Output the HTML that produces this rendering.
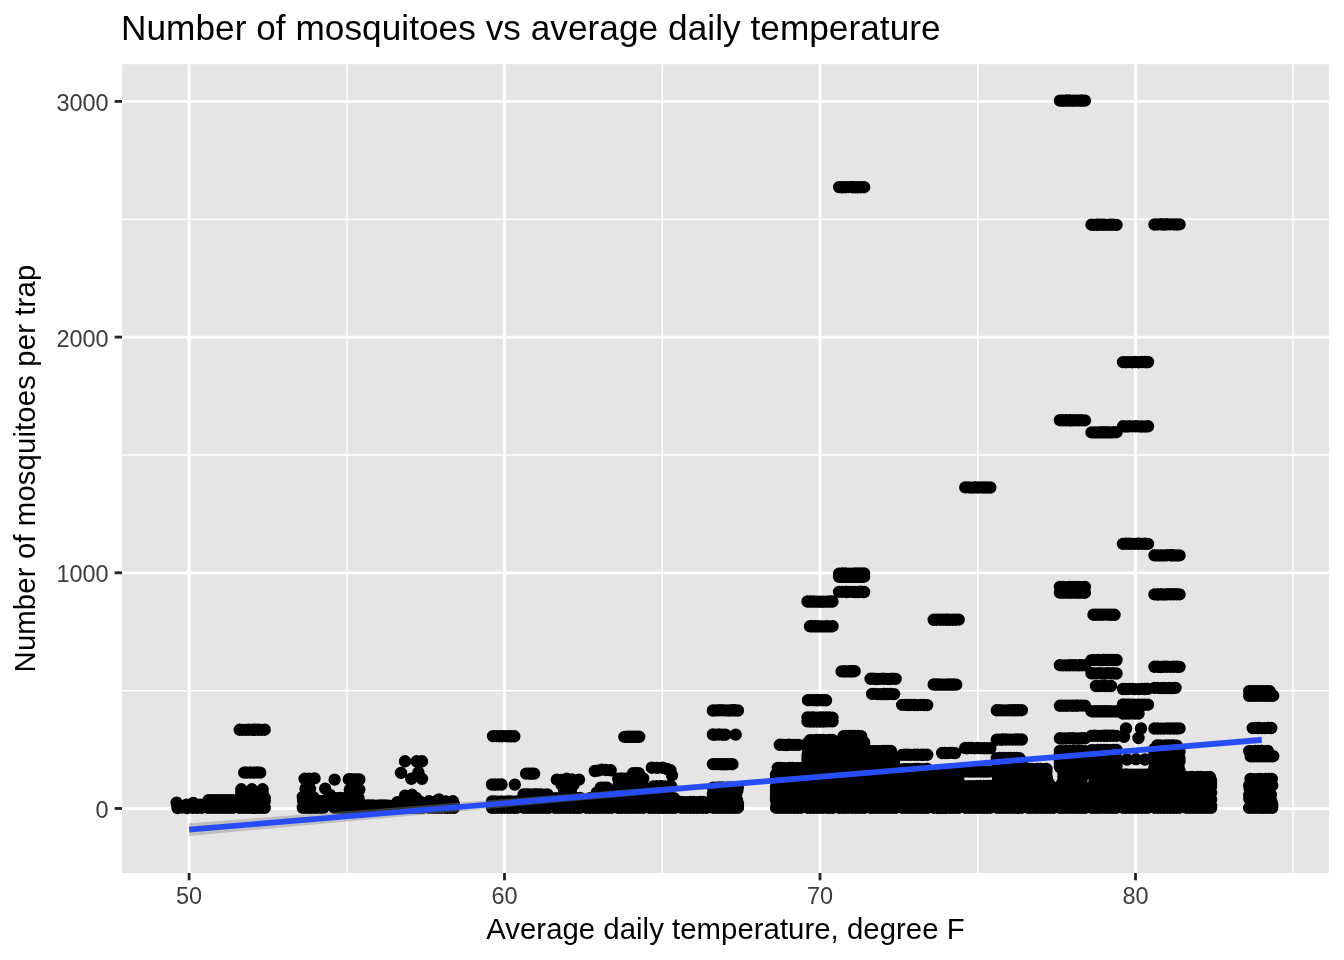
<!DOCTYPE html>
<html><head><meta charset="utf-8"><title>Number of mosquitoes vs average daily temperature</title>
<style>
html,body{margin:0;padding:0;background:#fff}
body{width:1344px;height:960px;overflow:hidden}
svg{display:block}
text{font-family:"Liberation Sans",Arial,Helvetica,sans-serif}
.ax text{font-size:23.47px;fill:#3c3c3c}
</style></head><body>
<svg width="1344" height="960" viewBox="0 0 1344 960">
<rect width="1344" height="960" fill="#fff"/>
<rect x="122.05" y="64.2" width="1207.0" height="808.8" fill="#e5e5e5"/>
<g fill="none"><path d="M122.05 690.7H1329" stroke="#fff" stroke-width="1.42"/><path d="M122.05 455.0H1329" stroke="#fff" stroke-width="1.42"/><path d="M122.05 219.3H1329" stroke="#fff" stroke-width="1.42"/><path d="M346.8 64.2V873" stroke="#fff" stroke-width="1.42"/><path d="M662.3 64.2V873" stroke="#fff" stroke-width="1.42"/><path d="M977.8 64.2V873" stroke="#fff" stroke-width="1.42"/><path d="M1293.2 64.2V873" stroke="#fff" stroke-width="1.42"/><path d="M122.05 808.5H1329" stroke="#fff" stroke-width="2.85"/><path d="M122.05 572.8H1329" stroke="#fff" stroke-width="2.85"/><path d="M122.05 337.1H1329" stroke="#fff" stroke-width="2.85"/><path d="M122.05 101.4H1329" stroke="#fff" stroke-width="2.85"/><path d="M189.1 64.2V873" stroke="#fff" stroke-width="2.85"/><path d="M504.5 64.2V873" stroke="#fff" stroke-width="2.85"/><path d="M820.0 64.2V873" stroke="#fff" stroke-width="2.85"/><path d="M1135.5 64.2V873" stroke="#fff" stroke-width="2.85"/></g>
<path d="M176.6 802.6h.01M177.3 806.5h.01M177.5 808h.01M182 807.5h.01M186.6 804.6h.01M187 808h.01M193.3 802.9h.01M193 807.8h.01M200.1 804.8h.01M201.5 807.8h.01M197 807.8h.01M190 806.5h.01M208.6 800.2h.01M211.7 800.3h.01M214.8 800.3h.01M217.8 800.2h.01M220.9 800.3h.01M223.9 800.2h.01M227.0 800.3h.01M230.0 800.2h.01M233.1 800.2h.01M211.0 803.5h.01M214.0 803.6h.01M217.1 803.5h.01M220.1 803.5h.01M223.2 803.6h.01M226.2 803.4h.01M229.3 803.6h.01M232.3 803.4h.01M208.5 806.6h.01M211.6 806.7h.01M214.7 806.7h.01M217.8 806.7h.01M220.9 806.7h.01M224.0 806.6h.01M227.1 806.6h.01M230.3 806.6h.01M208.1 807.9h.01M211.2 807.8h.01M214.4 807.7h.01M217.5 807.8h.01M220.6 807.8h.01M223.7 807.7h.01M226.9 807.9h.01M230.0 807.9h.01M233.1 807.7h.01M239.7 729.8h.01M242.8 729.9h.01M245.9 729.9h.01M249.0 729.7h.01M252.2 729.9h.01M255.3 729.7h.01M258.4 729.8h.01M261.5 729.9h.01M264.7 729.7h.01M254.0 729.8h.01M244.2 772.6h.01M247.4 772.6h.01M250.6 772.5h.01M253.8 772.6h.01M257.0 772.4h.01M260.2 772.6h.01M244.8 772.5h.01M241.3 789.3h.01M251.9 789.3h.01M262.6 789.3h.01M241.3 793h.01M251.9 793h.01M262.6 793h.01M246.5 793h.01M257 793h.01M239.7 798.1h.01M242.8 798.1h.01M245.9 798.0h.01M249.0 798.0h.01M252.2 797.9h.01M255.3 798.1h.01M258.4 798.0h.01M261.5 798.1h.01M264.7 798.1h.01M241.0 801.1h.01M244.0 801.2h.01M246.9 801.1h.01M249.9 801.1h.01M252.8 801.1h.01M255.8 801.3h.01M258.7 801.1h.01M261.7 801.1h.01M264.7 801.2h.01M239.7 804.4h.01M242.6 804.5h.01M245.5 804.5h.01M248.4 804.5h.01M251.4 804.3h.01M254.3 804.4h.01M257.2 804.4h.01M260.2 804.5h.01M263.1 804.5h.01M240.3 807.6h.01M243.2 807.6h.01M246.2 807.5h.01M249.1 807.5h.01M252.1 807.6h.01M255.0 807.6h.01M257.9 807.6h.01M260.9 807.7h.01M263.8 807.7h.01M239.7 807.8h.01M242.8 807.8h.01M245.9 807.9h.01M249.0 807.7h.01M252.2 807.9h.01M255.3 807.9h.01M258.4 807.9h.01M261.5 807.9h.01M264.7 807.8h.01M304.6 778.8h.01M314.5 778.4h.01M309 778.6h.01M305.5 788.6h.01M310 789h.01M303.1 800.9h.01M306.0 800.9h.01M308.9 800.9h.01M311.7 800.9h.01M314.6 801.0h.01M317.5 800.9h.01M320.4 800.9h.01M323.3 800.9h.01M304.0 804.2h.01M306.7 804.1h.01M309.4 804.1h.01M312.1 804.2h.01M314.8 804.2h.01M317.5 804.1h.01M320.2 804.3h.01M302.8 807.4h.01M305.7 807.3h.01M308.6 807.3h.01M311.5 807.4h.01M314.5 807.3h.01M317.4 807.5h.01M320.3 807.3h.01M323.3 807.3h.01M302.8 807.8h.01M305.7 807.7h.01M308.6 807.8h.01M311.5 807.7h.01M314.5 807.8h.01M317.4 807.9h.01M320.3 807.9h.01M323.3 807.9h.01M322.2 807.7h.01M302.8 797.0h.01M305.4 796.9h.01M308.0 797.1h.01M310.6 797.0h.01M313.3 797.1h.01M334.6 779.6h.01M325.2 788.6h.01M330 795h.01M348.8 779.3h.01M351.4 779.3h.01M354.0 779.5h.01M356.7 779.5h.01M359.3 779.5h.01M349.8 789.7h.01M353.0 789.7h.01M356.1 789.5h.01M359.3 789.6h.01M357.5 789.6h.01M334.4 798.1h.01M337.4 798.1h.01M340.4 798.0h.01M343.4 798.1h.01M346.4 798.1h.01M349.4 798.1h.01M352.4 798.0h.01M355.4 797.9h.01M358.4 797.9h.01M335.0 801.3h.01M338.1 801.3h.01M341.1 801.2h.01M344.1 801.2h.01M347.2 801.3h.01M350.2 801.1h.01M353.2 801.2h.01M356.3 801.3h.01M359.3 801.3h.01M334.3 804.3h.01M337.4 804.5h.01M340.5 804.3h.01M343.7 804.5h.01M346.8 804.5h.01M349.9 804.4h.01M353.0 804.4h.01M356.2 804.5h.01M359.3 804.5h.01M334.7 807.7h.01M337.8 807.5h.01M340.9 807.7h.01M343.9 807.7h.01M347.0 807.6h.01M350.0 807.6h.01M353.1 807.6h.01M356.1 807.5h.01M334.3 807.7h.01M337.4 807.9h.01M340.5 807.8h.01M343.7 807.8h.01M346.8 807.9h.01M349.9 807.8h.01M353.0 807.9h.01M356.2 807.9h.01M359.3 807.7h.01M366.9 805.4h.01M370.0 805.5h.01M373.1 805.4h.01M376.3 805.6h.01M379.4 805.5h.01M382.5 805.5h.01M385.7 805.5h.01M388.8 805.6h.01M365.8 807.8h.01M369.0 807.9h.01M372.1 807.8h.01M375.2 807.8h.01M378.3 807.8h.01M381.5 807.7h.01M384.6 807.8h.01M387.7 807.7h.01M390.8 807.7h.01M405 761.3h.01M416.6 761.3h.01M422 761.3h.01M401 772.9h.01M418.4 772.5h.01M411.3 778.8h.01M422 778.8h.01M405 795.7h.01M412 794.8h.01M408 797h.01M416 798h.01M397.4 802.1h.01M400.3 802.0h.01M403.2 801.9h.01M406.1 802.0h.01M409.1 802.0h.01M412.0 802.1h.01M414.9 801.9h.01M417.8 802.0h.01M420.7 801.9h.01M400.1 805.2h.01M403.3 805.3h.01M406.5 805.3h.01M409.7 805.2h.01M412.8 805.2h.01M416.0 805.2h.01M419.2 805.2h.01M422.4 805.3h.01M397.4 807.8h.01M400.5 807.8h.01M403.6 807.8h.01M406.8 807.9h.01M409.9 807.9h.01M413.0 807.9h.01M416.1 807.9h.01M419.3 807.7h.01M422.4 807.8h.01M429 801.3h.01M439 799.5h.01M453 801.3h.01M446 801.5h.01M434 802h.01M428.9 803.9h.01M432.1 803.9h.01M435.2 804.0h.01M438.3 803.9h.01M441.4 803.9h.01M444.6 803.9h.01M447.7 804.1h.01M450.8 804.1h.01M453.9 804.1h.01M431.5 807.1h.01M434.3 807.3h.01M437.1 807.3h.01M439.9 807.1h.01M442.7 807.3h.01M445.5 807.2h.01M448.3 807.2h.01M451.1 807.3h.01M453.9 807.3h.01M428.9 807.7h.01M432.1 807.8h.01M435.2 807.8h.01M438.3 807.8h.01M441.4 807.7h.01M444.6 807.7h.01M447.7 807.9h.01M450.8 807.7h.01M453.9 807.8h.01M493.0 736.1h.01M496.1 736.1h.01M499.1 736.2h.01M502.2 736.2h.01M505.2 736.1h.01M508.3 736.3h.01M511.3 736.3h.01M514.3 736.3h.01M502.4 736.1h.01M492.0 784.5h.01M495.2 784.7h.01M498.4 784.5h.01M501.5 784.5h.01M494.6 784.6h.01M514.8 784.6h.01M492.0 801.4h.01M495.2 801.4h.01M498.3 801.6h.01M501.4 801.5h.01M504.5 801.6h.01M507.7 801.4h.01M510.8 801.4h.01M513.9 801.6h.01M517.0 801.5h.01M495.3 804.8h.01M498.4 804.6h.01M501.5 804.8h.01M504.6 804.6h.01M507.7 804.8h.01M510.8 804.7h.01M513.9 804.7h.01M517.0 804.7h.01M492.0 807.9h.01M495.2 807.7h.01M498.3 807.7h.01M501.4 807.8h.01M504.5 807.7h.01M507.7 807.7h.01M510.8 807.7h.01M513.9 807.7h.01M517.0 807.7h.01M526.1 773.6h.01M528.8 773.6h.01M531.4 773.8h.01M534.1 773.6h.01M523.6 794.4h.01M526.6 794.4h.01M529.5 794.4h.01M532.5 794.6h.01M535.5 794.5h.01M538.5 794.4h.01M541.4 794.5h.01M544.4 794.6h.01M547.4 794.4h.01M523.6 797.8h.01M526.5 797.7h.01M529.4 797.7h.01M532.3 797.8h.01M535.2 797.8h.01M538.1 797.7h.01M541.0 797.8h.01M543.9 797.8h.01M546.9 797.7h.01M524.8 800.8h.01M527.7 801.0h.01M530.6 800.8h.01M533.6 800.8h.01M536.5 800.8h.01M539.4 801.0h.01M542.3 801.0h.01M545.2 801.0h.01M548.1 800.8h.01M524.6 804.0h.01M527.6 804.1h.01M530.6 804.0h.01M533.6 804.2h.01M536.6 804.2h.01M539.6 804.1h.01M542.6 804.0h.01M545.6 804.2h.01M548.6 804.0h.01M523.6 807.3h.01M526.5 807.2h.01M529.4 807.3h.01M532.3 807.2h.01M535.3 807.2h.01M538.2 807.2h.01M541.1 807.3h.01M544.0 807.2h.01M546.9 807.2h.01M523.6 807.7h.01M526.7 807.7h.01M529.8 807.8h.01M533.0 807.8h.01M536.1 807.9h.01M539.2 807.8h.01M542.3 807.9h.01M545.5 807.9h.01M548.6 807.8h.01M523.6 794.6h.01M526.7 794.4h.01M529.8 794.6h.01M533.0 794.5h.01M536.1 794.4h.01M527.7 794.6h.01M556.8 779.6h.01M566.6 778.8h.01M579 779.6h.01M561 780h.01M572 779.5h.01M561.5 784.5h.01M573.5 784.5h.01M567.5 784.5h.01M564 789.5h.01M571 789.5h.01M567.5 793.5h.01M555.1 798.1h.01M558.3 798.1h.01M561.4 797.9h.01M564.5 798.0h.01M567.6 798.0h.01M570.8 798.1h.01M573.9 798.1h.01M577.0 798.1h.01M580.1 798.0h.01M555.1 801.3h.01M558.3 801.1h.01M561.4 801.1h.01M564.5 801.1h.01M567.6 801.2h.01M570.8 801.1h.01M573.9 801.3h.01M577.0 801.2h.01M580.1 801.2h.01M555.1 804.4h.01M558.3 804.3h.01M561.4 804.5h.01M564.5 804.5h.01M567.6 804.4h.01M570.8 804.4h.01M573.9 804.4h.01M577.0 804.3h.01M580.1 804.5h.01M555.4 807.5h.01M558.6 807.7h.01M561.7 807.7h.01M564.9 807.6h.01M568.1 807.6h.01M571.2 807.6h.01M574.4 807.7h.01M577.6 807.7h.01M555.1 807.8h.01M558.3 807.8h.01M561.4 807.7h.01M564.5 807.7h.01M567.6 807.7h.01M570.8 807.9h.01M573.9 807.7h.01M577.0 807.8h.01M580.1 807.7h.01M594.8 771h.01M601.8 769.6h.01M610.7 770.3h.01M598 770.6h.01M606 770h.01M600.7 787.6h.01M602.9 787.6h.01M605.0 787.8h.01M607.2 787.8h.01M596.7 792.6h.01M599.6 792.4h.01M602.4 792.5h.01M605.3 792.5h.01M608.2 792.5h.01M589.8 798.1h.01M592.9 797.9h.01M596.0 798.0h.01M599.0 798.1h.01M602.1 798.1h.01M605.2 798.0h.01M608.3 797.9h.01M590.0 801.1h.01M592.8 801.2h.01M595.6 801.3h.01M598.4 801.1h.01M601.2 801.3h.01M604.0 801.2h.01M606.8 801.3h.01M609.6 801.3h.01M589.8 804.3h.01M592.9 804.3h.01M596.1 804.4h.01M599.2 804.4h.01M602.3 804.3h.01M605.4 804.3h.01M608.6 804.4h.01M611.7 804.3h.01M586.7 807.7h.01M589.9 807.5h.01M593.1 807.7h.01M596.3 807.7h.01M599.5 807.7h.01M602.7 807.5h.01M605.9 807.6h.01M609.1 807.6h.01M586.7 807.9h.01M589.8 807.8h.01M592.9 807.8h.01M596.1 807.8h.01M599.2 807.7h.01M602.3 807.7h.01M605.4 807.7h.01M608.6 807.9h.01M611.7 807.7h.01M624.4 736.9h.01M627.4 736.7h.01M630.4 736.7h.01M633.3 736.8h.01M636.3 736.7h.01M639.2 736.8h.01M633.2 773.1h.01M636.0 773.1h.01M638.7 773.1h.01M618.2 778.6h.01M621.4 778.5h.01M624.5 778.6h.01M627.6 778.4h.01M630.7 778.6h.01M633.9 778.5h.01M637.0 778.6h.01M640.1 778.5h.01M643.2 778.4h.01M621.5 781.7h.01M624.3 781.6h.01M627.2 781.8h.01M630.1 781.8h.01M633.0 781.6h.01M635.8 781.7h.01M638.7 781.6h.01M641.6 781.7h.01M618.8 785.0h.01M621.8 784.9h.01M624.7 784.8h.01M627.7 785.0h.01M630.7 785.0h.01M633.6 784.9h.01M636.6 784.8h.01M639.5 784.8h.01M642.5 784.8h.01M618.6 788.1h.01M621.5 788.2h.01M624.5 788.2h.01M627.5 788.1h.01M630.4 788.1h.01M633.4 788.1h.01M636.4 788.1h.01M639.4 788.1h.01M642.3 788.0h.01M621.6 791.3h.01M624.5 791.4h.01M627.3 791.2h.01M630.1 791.2h.01M633.0 791.2h.01M635.8 791.3h.01M638.6 791.3h.01M641.5 791.4h.01M618.2 794.4h.01M621.4 794.4h.01M624.5 794.6h.01M627.6 794.6h.01M630.7 794.5h.01M633.9 794.5h.01M637.0 794.4h.01M640.1 794.5h.01M643.2 794.6h.01M618.2 797.8h.01M621.4 797.6h.01M624.5 797.6h.01M627.6 797.6h.01M630.7 797.7h.01M633.9 797.8h.01M637.0 797.8h.01M640.1 797.8h.01M643.2 797.7h.01M618.2 800.9h.01M621.4 800.8h.01M624.5 801.0h.01M627.6 800.8h.01M630.7 801.0h.01M633.9 800.9h.01M637.0 800.8h.01M640.1 800.8h.01M643.2 800.8h.01M618.2 804.0h.01M621.4 804.0h.01M624.5 804.1h.01M627.6 804.1h.01M630.7 804.1h.01M633.9 804.0h.01M637.0 804.1h.01M640.1 804.0h.01M643.2 804.0h.01M618.2 807.3h.01M621.4 807.4h.01M624.5 807.3h.01M627.6 807.2h.01M630.7 807.2h.01M633.9 807.4h.01M637.0 807.4h.01M640.1 807.2h.01M643.2 807.2h.01M618.2 807.8h.01M621.4 807.9h.01M624.5 807.8h.01M627.6 807.7h.01M630.7 807.9h.01M633.9 807.9h.01M637.0 807.7h.01M640.1 807.7h.01M643.2 807.8h.01M651.8 767.7h.01M662.5 767.7h.01M657 767.9h.01M667 769h.01M670.5 770.3h.01M672 775.3h.01M653.3 786.5h.01M656.3 786.3h.01M659.3 786.5h.01M662.3 786.5h.01M665.3 786.4h.01M668.3 786.3h.01M671.3 786.5h.01M660.9 786.3h.01M649.8 798.1h.01M652.8 797.9h.01M655.8 798.1h.01M658.9 798.0h.01M661.9 797.9h.01M664.9 797.9h.01M667.9 798.0h.01M671.0 798.0h.01M674.0 798.1h.01M651.2 801.1h.01M654.0 801.1h.01M656.9 801.1h.01M659.8 801.2h.01M662.7 801.3h.01M665.6 801.3h.01M668.5 801.3h.01M671.4 801.3h.01M649.8 804.5h.01M652.8 804.5h.01M655.9 804.3h.01M658.9 804.4h.01M662.0 804.4h.01M665.0 804.4h.01M668.0 804.3h.01M671.1 804.3h.01M674.1 804.3h.01M651.0 807.5h.01M654.0 807.7h.01M657.0 807.5h.01M659.9 807.6h.01M662.9 807.7h.01M665.9 807.7h.01M668.8 807.6h.01M671.8 807.5h.01M674.8 807.6h.01M649.8 807.8h.01M652.9 807.9h.01M656.0 807.7h.01M659.2 807.8h.01M662.3 807.9h.01M665.4 807.7h.01M668.5 807.8h.01M671.7 807.9h.01M674.8 807.9h.01M681.4 801.9h.01M684.5 802.1h.01M687.6 802.1h.01M690.7 802.0h.01M693.8 801.9h.01M696.9 802.1h.01M700.0 802.0h.01M703.1 801.9h.01M681.3 805.1h.01M684.3 805.3h.01M687.3 805.3h.01M690.3 805.2h.01M693.3 805.3h.01M696.4 805.1h.01M699.4 805.1h.01M702.4 805.2h.01M705.4 805.3h.01M681.3 807.9h.01M684.5 807.8h.01M687.6 807.7h.01M690.7 807.8h.01M693.8 807.8h.01M697.0 807.9h.01M700.1 807.7h.01M703.2 807.9h.01M706.3 807.9h.01M712.9 710.5h.01M716.0 710.4h.01M719.1 710.3h.01M722.3 710.3h.01M725.4 710.4h.01M728.5 710.5h.01M731.6 710.3h.01M734.8 710.3h.01M737.9 710.5h.01M733.4 710.3h.01M712.9 734.5h.01M716.0 734.6h.01M719.1 734.5h.01M722.3 734.7h.01M725.4 734.7h.01M713.7 734.7h.01M735.7 734.6h.01M712.9 764.1h.01M715.7 764.1h.01M718.4 764.1h.01M721.2 764.2h.01M724.0 764.3h.01M726.8 764.2h.01M729.6 764.1h.01M732.4 764.2h.01M712.9 787.6h.01M716.0 787.6h.01M719.1 787.5h.01M722.3 787.4h.01M725.4 787.6h.01M728.5 787.4h.01M731.6 787.5h.01M734.8 787.5h.01M737.9 787.6h.01M713.7 790.8h.01M716.7 790.7h.01M719.6 790.6h.01M722.6 790.7h.01M725.5 790.8h.01M728.5 790.7h.01M731.4 790.6h.01M734.4 790.8h.01M737.3 790.7h.01M712.9 794.0h.01M715.8 794.0h.01M718.7 794.0h.01M721.6 793.8h.01M724.5 793.8h.01M727.5 793.8h.01M730.4 793.8h.01M733.3 794.0h.01M736.2 793.9h.01M712.9 797.1h.01M716.0 797.0h.01M719.2 797.2h.01M722.3 797.2h.01M725.4 797.0h.01M728.6 797.1h.01M731.7 797.1h.01M734.8 797.0h.01M713.4 800.3h.01M716.3 800.3h.01M719.3 800.2h.01M722.2 800.2h.01M725.2 800.2h.01M728.1 800.4h.01M731.1 800.2h.01M734.0 800.2h.01M737.0 800.2h.01M712.9 803.4h.01M716.0 803.4h.01M719.1 803.5h.01M722.3 803.5h.01M725.4 803.5h.01M728.5 803.4h.01M731.6 803.4h.01M734.8 803.6h.01M737.9 803.5h.01M714.0 806.6h.01M716.9 806.7h.01M719.9 806.7h.01M722.9 806.7h.01M725.9 806.8h.01M728.9 806.8h.01M731.9 806.7h.01M734.9 806.6h.01M737.9 806.8h.01M712.9 807.7h.01M716.0 807.7h.01M719.1 807.9h.01M722.3 807.8h.01M725.4 807.9h.01M728.5 807.8h.01M731.6 807.9h.01M734.8 807.8h.01M737.9 807.7h.01M779.8 744.9h.01M782.9 744.9h.01M786.0 745.0h.01M789.1 744.8h.01M792.2 744.9h.01M795.4 744.9h.01M798.5 744.9h.01M780.0 744.8h.01M777.8 767.9h.01M780.7 768.0h.01M783.6 768.1h.01M786.5 768.1h.01M789.4 767.9h.01M792.3 767.9h.01M795.2 768.1h.01M798.1 768.1h.01M801.0 768.0h.01M779.2 771.2h.01M782.3 771.3h.01M785.4 771.1h.01M788.5 771.3h.01M791.6 771.1h.01M794.7 771.2h.01M797.8 771.3h.01M776.0 774.4h.01M779.0 774.4h.01M782.0 774.4h.01M785.1 774.3h.01M788.1 774.3h.01M791.1 774.5h.01M794.1 774.5h.01M797.2 774.3h.01M800.2 774.4h.01M776.0 777.5h.01M779.1 777.6h.01M782.3 777.6h.01M785.4 777.6h.01M788.6 777.5h.01M791.7 777.6h.01M794.9 777.6h.01M798.0 777.6h.01M776.0 780.7h.01M778.9 780.8h.01M781.8 780.8h.01M784.8 780.7h.01M787.7 780.9h.01M790.6 780.9h.01M793.6 780.8h.01M796.5 780.7h.01M799.4 780.8h.01M776.4 784.0h.01M779.5 784.0h.01M782.5 783.9h.01M785.5 784.0h.01M788.5 783.9h.01M791.6 784.1h.01M794.6 784.1h.01M797.6 784.0h.01M800.7 783.9h.01M776.0 787.1h.01M779.1 787.3h.01M782.2 787.3h.01M785.3 787.3h.01M788.4 787.3h.01M791.5 787.1h.01M794.5 787.3h.01M797.6 787.2h.01M776.0 790.3h.01M779.1 790.5h.01M782.2 790.5h.01M785.3 790.3h.01M788.5 790.4h.01M791.6 790.5h.01M794.7 790.3h.01M797.8 790.5h.01M801.0 790.3h.01M776.0 793.7h.01M778.9 793.5h.01M781.8 793.5h.01M784.7 793.6h.01M787.6 793.5h.01M790.5 793.5h.01M793.4 793.5h.01M796.3 793.5h.01M799.2 793.7h.01M776.0 796.7h.01M779.1 796.9h.01M782.2 796.7h.01M785.3 796.8h.01M788.5 796.8h.01M791.6 796.8h.01M794.7 796.9h.01M797.8 796.8h.01M801.0 796.8h.01M776.0 800.0h.01M779.0 800.0h.01M782.1 800.1h.01M785.2 799.9h.01M788.3 800.1h.01M791.3 800.0h.01M794.4 800.0h.01M797.5 800.1h.01M776.6 803.1h.01M779.6 803.3h.01M782.7 803.1h.01M785.7 803.2h.01M788.8 803.3h.01M791.8 803.2h.01M794.9 803.2h.01M797.9 803.1h.01M801.0 803.1h.01M776.5 806.4h.01M779.6 806.4h.01M782.6 806.5h.01M785.7 806.3h.01M788.7 806.3h.01M791.8 806.4h.01M794.9 806.3h.01M797.9 806.3h.01M801.0 806.4h.01M776.0 807.7h.01M779.1 807.8h.01M782.2 807.7h.01M785.3 807.8h.01M788.5 807.8h.01M791.6 807.7h.01M794.7 807.8h.01M797.8 807.8h.01M801.0 807.7h.01M807.5 601.5h.01M810.6 601.5h.01M813.8 601.5h.01M816.9 601.6h.01M820.0 601.7h.01M823.1 601.7h.01M826.3 601.6h.01M829.4 601.5h.01M832.5 601.5h.01M830.9 601.6h.01M810.0 626.3h.01M812.8 626.3h.01M815.6 626.3h.01M818.5 626.3h.01M821.3 626.4h.01M824.1 626.4h.01M826.9 626.2h.01M829.7 626.4h.01M832.5 626.2h.01M808.0 700.2h.01M811.0 700.1h.01M814.0 700.1h.01M817.0 700.3h.01M820.0 700.1h.01M823.0 700.2h.01M826.0 700.3h.01M817.6 700.1h.01M807.5 717.5h.01M810.6 717.5h.01M813.8 717.5h.01M816.9 717.6h.01M820.0 717.4h.01M823.1 717.4h.01M826.3 717.4h.01M829.4 717.4h.01M832.5 717.6h.01M812.5 717.6h.01M807.5 721.4h.01M810.6 721.6h.01M813.8 721.6h.01M816.9 721.5h.01M820.0 721.6h.01M823.1 721.5h.01M826.3 721.4h.01M829.4 721.4h.01M832.5 721.4h.01M825.4 721.4h.01M810.1 740.1h.01M813.3 740.1h.01M816.5 739.9h.01M819.7 740.0h.01M822.9 740.0h.01M826.1 740.1h.01M829.3 740.0h.01M832.5 739.9h.01M807.5 743.1h.01M810.6 743.3h.01M813.8 743.1h.01M816.9 743.1h.01M820.0 743.1h.01M823.1 743.3h.01M826.3 743.3h.01M829.4 743.3h.01M832.5 743.1h.01M807.5 746.5h.01M810.5 746.4h.01M813.6 746.5h.01M816.6 746.4h.01M819.6 746.5h.01M822.6 746.4h.01M825.6 746.5h.01M828.7 746.5h.01M831.7 746.5h.01M810.1 749.5h.01M812.9 749.5h.01M815.7 749.6h.01M818.5 749.5h.01M821.3 749.7h.01M824.1 749.5h.01M826.9 749.5h.01M829.7 749.5h.01M832.5 749.7h.01M808.0 752.9h.01M811.1 752.8h.01M814.1 752.9h.01M817.2 752.9h.01M820.2 752.7h.01M823.2 752.8h.01M826.3 752.8h.01M829.3 752.9h.01M832.4 752.9h.01M807.5 756.1h.01M810.7 756.1h.01M813.8 755.9h.01M816.9 755.9h.01M820.1 755.9h.01M823.2 755.9h.01M826.3 756.1h.01M829.5 756.1h.01M807.5 759.2h.01M810.6 759.1h.01M813.8 759.1h.01M816.9 759.1h.01M820.0 759.3h.01M823.1 759.1h.01M826.3 759.1h.01M829.4 759.2h.01M832.5 759.1h.01M808.5 762.4h.01M811.5 762.3h.01M814.5 762.5h.01M817.5 762.4h.01M820.5 762.5h.01M823.5 762.4h.01M826.5 762.3h.01M829.5 762.4h.01M832.5 762.4h.01M807.5 765.6h.01M810.3 765.5h.01M813.2 765.7h.01M816.0 765.5h.01M818.8 765.7h.01M821.6 765.5h.01M824.4 765.5h.01M827.2 765.5h.01M830.1 765.7h.01M807.5 768.8h.01M810.4 768.9h.01M813.3 768.7h.01M816.3 768.8h.01M819.2 768.8h.01M822.1 768.9h.01M825.0 768.7h.01M827.9 768.9h.01M830.8 768.7h.01M810.0 771.9h.01M812.8 772.0h.01M815.6 771.9h.01M818.4 772.1h.01M821.2 772.1h.01M824.1 772.1h.01M826.9 772.0h.01M829.7 772.0h.01M832.5 772.0h.01M810.6 775.1h.01M813.8 775.1h.01M816.9 775.1h.01M820.0 775.3h.01M823.2 775.2h.01M826.3 775.2h.01M829.4 775.3h.01M809.1 778.5h.01M812.1 778.5h.01M815.0 778.4h.01M817.9 778.4h.01M820.8 778.3h.01M823.7 778.3h.01M826.7 778.5h.01M829.6 778.4h.01M832.5 778.5h.01M809.1 781.6h.01M812.0 781.5h.01M814.9 781.6h.01M817.9 781.7h.01M820.8 781.5h.01M823.7 781.5h.01M826.7 781.5h.01M829.6 781.7h.01M832.5 781.7h.01M808.1 784.8h.01M811.0 784.7h.01M813.9 784.7h.01M816.8 784.7h.01M819.7 784.9h.01M822.6 784.9h.01M825.5 784.7h.01M828.5 784.9h.01M831.4 784.7h.01M811.0 788.1h.01M814.0 788.0h.01M817.1 787.9h.01M820.2 788.0h.01M823.3 787.9h.01M826.4 787.9h.01M829.4 788.0h.01M832.5 787.9h.01M810.3 791.2h.01M813.5 791.2h.01M816.6 791.2h.01M819.8 791.1h.01M823.0 791.2h.01M826.2 791.2h.01M829.3 791.3h.01M832.5 791.3h.01M809.5 794.4h.01M812.4 794.3h.01M815.3 794.5h.01M818.2 794.5h.01M821.0 794.5h.01M823.9 794.5h.01M826.8 794.5h.01M829.6 794.5h.01M832.5 794.4h.01M807.5 797.5h.01M810.4 797.6h.01M813.2 797.7h.01M816.1 797.7h.01M818.9 797.6h.01M821.8 797.5h.01M824.6 797.6h.01M827.5 797.6h.01M830.3 797.6h.01M809.9 800.7h.01M812.7 800.8h.01M815.5 800.9h.01M818.4 800.8h.01M821.2 800.8h.01M824.0 800.9h.01M826.9 800.7h.01M829.7 800.8h.01M832.5 800.7h.01M807.5 804.0h.01M810.6 803.9h.01M813.8 804.0h.01M816.9 804.0h.01M820.0 804.1h.01M823.1 804.0h.01M826.3 804.0h.01M829.4 804.1h.01M832.5 804.0h.01M810.8 807.2h.01M813.6 807.3h.01M816.3 807.1h.01M819.1 807.3h.01M821.9 807.2h.01M824.6 807.1h.01M827.4 807.1h.01M830.1 807.2h.01M807.5 807.7h.01M810.6 807.8h.01M813.8 807.8h.01M816.9 807.9h.01M820.0 807.8h.01M823.1 807.7h.01M826.3 807.7h.01M829.4 807.9h.01M832.5 807.9h.01M839.1 187.1h.01M842.2 187.3h.01M845.3 187.2h.01M848.4 187.1h.01M851.6 187.1h.01M854.7 187.3h.01M857.8 187.3h.01M860.9 187.2h.01M864.1 187.2h.01M852.2 187.2h.01M839.1 573.6h.01M842.2 573.5h.01M845.3 573.5h.01M848.4 573.6h.01M851.6 573.6h.01M854.7 573.5h.01M857.8 573.4h.01M860.9 573.5h.01M864.1 573.4h.01M844.7 573.6h.01M839.1 576.9h.01M842.2 576.7h.01M845.3 576.8h.01M848.4 576.7h.01M851.6 576.8h.01M854.7 576.7h.01M857.8 576.7h.01M860.9 576.9h.01M864.1 576.7h.01M847.9 576.7h.01M839.1 591.9h.01M842.2 591.9h.01M845.3 591.9h.01M848.4 591.9h.01M851.6 591.9h.01M854.7 592.0h.01M857.8 592.0h.01M860.9 591.8h.01M864.1 592.0h.01M846.6 592.0h.01M841.6 671.4h.01M844.2 671.2h.01M846.8 671.4h.01M849.4 671.3h.01M852.0 671.2h.01M854.6 671.2h.01M843.6 736.1h.01M846.5 736.0h.01M849.4 735.9h.01M852.3 735.9h.01M855.2 735.9h.01M858.2 735.9h.01M861.1 736.1h.01M843.1 739.2h.01M846.2 739.1h.01M849.2 739.3h.01M852.3 739.3h.01M855.4 739.1h.01M858.5 739.3h.01M861.6 739.2h.01M839.1 742.5h.01M842.2 742.5h.01M845.3 742.5h.01M848.4 742.3h.01M851.6 742.5h.01M854.7 742.4h.01M857.8 742.5h.01M860.9 742.4h.01M864.1 742.5h.01M839.1 745.5h.01M842.1 745.6h.01M845.1 745.5h.01M848.1 745.6h.01M851.2 745.5h.01M854.2 745.6h.01M857.2 745.6h.01M860.2 745.6h.01M863.2 745.7h.01M842.0 748.8h.01M845.2 748.8h.01M848.3 748.9h.01M851.5 748.8h.01M854.6 748.8h.01M857.8 748.9h.01M860.9 748.7h.01M864.1 748.8h.01M839.1 752.1h.01M841.9 752.1h.01M844.8 751.9h.01M847.6 752.1h.01M850.5 752.0h.01M853.4 752.0h.01M856.2 752.1h.01M859.1 751.9h.01M861.9 752.1h.01M839.1 755.2h.01M842.2 755.2h.01M845.3 755.2h.01M848.5 755.3h.01M851.6 755.1h.01M854.8 755.2h.01M857.9 755.2h.01M861.1 755.2h.01M839.1 758.4h.01M842.2 758.4h.01M845.4 758.3h.01M848.5 758.4h.01M851.7 758.5h.01M854.9 758.4h.01M858.0 758.5h.01M861.2 758.3h.01M840.1 761.6h.01M843.1 761.7h.01M846.1 761.5h.01M849.1 761.7h.01M852.1 761.7h.01M855.1 761.6h.01M858.1 761.5h.01M861.1 761.5h.01M864.1 761.5h.01M842.3 764.8h.01M845.4 764.9h.01M848.5 764.9h.01M851.6 764.8h.01M854.7 764.8h.01M857.8 764.8h.01M861.0 764.9h.01M864.1 764.8h.01M839.1 768.0h.01M841.9 768.1h.01M844.7 767.9h.01M847.6 767.9h.01M850.4 767.9h.01M853.2 768.1h.01M856.1 768.1h.01M858.9 768.0h.01M861.7 768.0h.01M839.1 771.2h.01M842.2 771.1h.01M845.3 771.1h.01M848.4 771.2h.01M851.6 771.1h.01M854.7 771.2h.01M857.8 771.2h.01M860.9 771.3h.01M864.1 771.1h.01M839.1 774.5h.01M842.1 774.4h.01M845.2 774.5h.01M848.3 774.4h.01M851.4 774.3h.01M854.4 774.4h.01M857.5 774.4h.01M860.6 774.5h.01M863.7 774.5h.01M839.1 777.6h.01M842.1 777.5h.01M845.2 777.5h.01M848.3 777.5h.01M851.4 777.5h.01M854.5 777.7h.01M857.6 777.5h.01M860.6 777.7h.01M863.7 777.5h.01M839.1 780.9h.01M842.2 780.7h.01M845.3 780.9h.01M848.4 780.7h.01M851.5 780.7h.01M854.7 780.9h.01M857.8 780.9h.01M860.9 780.9h.01M864.0 780.9h.01M841.3 784.0h.01M844.1 784.1h.01M847.0 783.9h.01M849.8 784.1h.01M852.7 784.1h.01M855.5 783.9h.01M858.4 783.9h.01M861.2 784.0h.01M864.1 784.1h.01M840.2 787.1h.01M843.1 787.3h.01M846.1 787.2h.01M849.1 787.1h.01M852.1 787.2h.01M855.1 787.2h.01M858.1 787.2h.01M861.1 787.3h.01M864.1 787.1h.01M839.1 790.4h.01M841.9 790.4h.01M844.8 790.4h.01M847.6 790.5h.01M850.4 790.5h.01M853.3 790.5h.01M856.1 790.4h.01M859.0 790.3h.01M861.8 790.3h.01M839.1 793.7h.01M842.2 793.5h.01M845.3 793.6h.01M848.4 793.7h.01M851.6 793.7h.01M854.7 793.6h.01M857.8 793.5h.01M860.9 793.6h.01M864.1 793.7h.01M841.5 796.9h.01M844.3 796.9h.01M847.1 796.7h.01M849.9 796.7h.01M852.8 796.7h.01M855.6 796.8h.01M858.4 796.8h.01M861.2 796.9h.01M864.1 796.9h.01M842.0 800.1h.01M845.1 800.0h.01M848.3 799.9h.01M851.4 800.1h.01M854.6 800.1h.01M857.8 800.1h.01M860.9 800.1h.01M864.1 800.0h.01M841.0 803.1h.01M843.9 803.3h.01M846.8 803.3h.01M849.7 803.1h.01M852.5 803.2h.01M855.4 803.3h.01M858.3 803.2h.01M861.2 803.1h.01M864.1 803.1h.01M839.1 806.4h.01M842.2 806.3h.01M845.3 806.5h.01M848.4 806.5h.01M851.6 806.3h.01M854.7 806.4h.01M857.8 806.5h.01M860.9 806.5h.01M864.1 806.4h.01M839.1 807.8h.01M842.2 807.8h.01M845.3 807.7h.01M848.4 807.7h.01M851.6 807.7h.01M854.7 807.9h.01M857.8 807.8h.01M860.9 807.8h.01M864.1 807.8h.01M870.6 678.8h.01M873.7 678.8h.01M876.9 679.0h.01M880.0 678.9h.01M883.1 678.8h.01M886.2 678.9h.01M889.4 679.0h.01M892.5 678.8h.01M895.6 678.9h.01M883.5 678.9h.01M872.1 693.9h.01M875.3 693.9h.01M878.4 694.1h.01M881.5 694.1h.01M884.7 694.0h.01M887.8 694.0h.01M891.0 693.9h.01M894.1 694.1h.01M883.5 694.0h.01M870.6 751.1h.01M873.5 751.1h.01M876.4 751.1h.01M879.3 751.1h.01M882.2 750.9h.01M885.0 750.9h.01M887.9 750.9h.01M890.8 750.9h.01M870.6 754.1h.01M873.5 754.1h.01M876.5 754.2h.01M879.4 754.3h.01M882.3 754.2h.01M885.3 754.3h.01M888.2 754.3h.01M891.1 754.1h.01M870.6 757.4h.01M873.7 757.4h.01M876.8 757.3h.01M879.8 757.5h.01M882.9 757.3h.01M886.0 757.4h.01M889.0 757.4h.01M892.1 757.5h.01M870.6 760.5h.01M873.5 760.7h.01M876.5 760.7h.01M879.4 760.5h.01M882.3 760.5h.01M885.3 760.5h.01M888.2 760.6h.01M891.1 760.7h.01M894.0 760.7h.01M870.6 763.9h.01M873.8 763.8h.01M877.0 763.9h.01M880.2 763.7h.01M883.3 763.7h.01M886.5 763.9h.01M889.7 763.9h.01M892.9 763.9h.01M872.7 766.9h.01M875.6 766.9h.01M878.4 766.9h.01M881.3 766.9h.01M884.2 767.0h.01M887.0 766.9h.01M889.9 766.9h.01M892.7 766.9h.01M895.6 767.1h.01M873.1 770.3h.01M876.3 770.1h.01M879.5 770.3h.01M882.7 770.3h.01M885.9 770.3h.01M889.1 770.1h.01M892.3 770.2h.01M895.5 770.1h.01M870.6 773.4h.01M873.7 773.4h.01M876.9 773.4h.01M880.0 773.5h.01M883.1 773.4h.01M886.2 773.4h.01M889.4 773.3h.01M892.5 773.3h.01M895.6 773.3h.01M870.6 776.5h.01M873.7 776.7h.01M876.9 776.5h.01M880.0 776.6h.01M883.1 776.5h.01M886.2 776.5h.01M889.4 776.7h.01M892.5 776.6h.01M895.6 776.5h.01M870.6 779.7h.01M873.7 779.9h.01M876.9 779.7h.01M880.0 779.9h.01M883.1 779.9h.01M886.2 779.7h.01M889.3 779.8h.01M892.5 779.7h.01M871.3 783.1h.01M874.3 783.1h.01M877.3 782.9h.01M880.2 782.9h.01M883.2 783.1h.01M886.2 782.9h.01M889.2 783.1h.01M892.1 782.9h.01M870.6 786.2h.01M873.8 786.1h.01M877.0 786.1h.01M880.1 786.3h.01M883.3 786.2h.01M886.5 786.1h.01M889.6 786.2h.01M892.8 786.3h.01M872.6 789.5h.01M875.8 789.5h.01M879.0 789.3h.01M882.2 789.3h.01M885.4 789.3h.01M888.6 789.4h.01M891.8 789.4h.01M895.0 789.3h.01M872.8 792.7h.01M875.6 792.6h.01M878.5 792.5h.01M881.3 792.5h.01M884.2 792.7h.01M887.0 792.6h.01M889.9 792.7h.01M892.8 792.5h.01M895.6 792.7h.01M873.6 795.8h.01M876.7 795.7h.01M879.9 795.9h.01M883.0 795.8h.01M886.2 795.9h.01M889.3 795.7h.01M892.5 795.7h.01M895.6 795.9h.01M871.2 798.9h.01M874.4 799.0h.01M877.6 799.0h.01M880.8 799.0h.01M884.0 798.9h.01M887.1 799.1h.01M890.3 799.1h.01M893.5 799.1h.01M873.1 802.1h.01M875.9 802.3h.01M878.8 802.3h.01M881.6 802.2h.01M884.5 802.2h.01M887.3 802.2h.01M890.1 802.2h.01M893.0 802.1h.01M870.6 805.3h.01M873.7 805.3h.01M876.7 805.5h.01M879.8 805.3h.01M882.8 805.3h.01M885.8 805.5h.01M888.9 805.3h.01M891.9 805.3h.01M895.0 805.4h.01M870.6 807.8h.01M873.7 807.8h.01M876.9 807.9h.01M880.0 807.7h.01M883.1 807.9h.01M886.2 807.9h.01M889.4 807.7h.01M892.5 807.7h.01M895.6 807.8h.01M902.2 704.9h.01M905.3 704.9h.01M908.4 705.0h.01M911.5 704.9h.01M914.7 705.0h.01M917.8 705.1h.01M920.9 704.9h.01M924.0 705.0h.01M927.2 705.1h.01M914.7 704.9h.01M902.2 754.9h.01M905.3 754.8h.01M908.4 754.8h.01M911.5 754.9h.01M914.7 754.8h.01M917.8 754.8h.01M920.9 754.9h.01M924.0 754.9h.01M927.2 754.8h.01M922.8 754.7h.01M903.7 769.1h.01M906.6 769.1h.01M909.6 769.1h.01M912.5 769.1h.01M915.4 768.9h.01M918.4 769.0h.01M921.3 769.1h.01M924.2 769.1h.01M927.2 768.9h.01M904.4 772.1h.01M907.4 772.2h.01M910.4 772.2h.01M913.3 772.1h.01M916.3 772.1h.01M919.3 772.3h.01M922.3 772.3h.01M925.3 772.3h.01M902.2 775.5h.01M905.3 775.5h.01M908.4 775.3h.01M911.5 775.4h.01M914.7 775.3h.01M917.8 775.5h.01M920.9 775.3h.01M924.0 775.4h.01M927.2 775.5h.01M902.2 778.6h.01M905.1 778.7h.01M908.0 778.5h.01M910.9 778.5h.01M913.8 778.6h.01M916.7 778.5h.01M919.5 778.6h.01M922.4 778.7h.01M925.3 778.6h.01M903.8 781.7h.01M906.7 781.7h.01M909.6 781.7h.01M912.6 781.7h.01M915.5 781.8h.01M918.4 781.7h.01M921.3 781.7h.01M924.2 781.7h.01M927.2 781.8h.01M902.2 785.0h.01M905.3 785.0h.01M908.4 784.9h.01M911.5 785.1h.01M914.7 785.0h.01M917.8 785.0h.01M920.9 785.0h.01M924.0 785.0h.01M927.2 784.9h.01M902.9 788.2h.01M906.0 788.2h.01M909.0 788.1h.01M912.0 788.2h.01M915.1 788.3h.01M918.1 788.1h.01M921.1 788.2h.01M924.1 788.2h.01M927.2 788.1h.01M902.2 791.3h.01M905.3 791.3h.01M908.5 791.5h.01M911.7 791.4h.01M914.9 791.3h.01M918.1 791.4h.01M921.3 791.4h.01M924.5 791.5h.01M903.0 794.7h.01M906.0 794.5h.01M909.0 794.6h.01M912.0 794.6h.01M915.1 794.7h.01M918.1 794.6h.01M921.1 794.7h.01M924.1 794.7h.01M927.2 794.6h.01M902.2 797.9h.01M905.3 797.8h.01M908.4 797.9h.01M911.5 797.9h.01M914.7 797.9h.01M917.8 797.7h.01M920.9 797.9h.01M924.0 797.7h.01M927.2 797.9h.01M902.2 801.1h.01M905.3 801.0h.01M908.4 801.0h.01M911.5 801.1h.01M914.7 801.1h.01M917.8 801.0h.01M920.9 801.0h.01M924.0 801.0h.01M927.2 801.0h.01M902.2 804.2h.01M905.1 804.2h.01M908.1 804.1h.01M911.0 804.3h.01M914.0 804.3h.01M916.9 804.2h.01M919.9 804.2h.01M922.8 804.1h.01M925.8 804.1h.01M904.2 807.3h.01M907.1 807.5h.01M909.9 807.3h.01M912.8 807.5h.01M915.7 807.5h.01M918.5 807.5h.01M921.4 807.3h.01M924.3 807.4h.01M927.2 807.5h.01M902.2 807.7h.01M905.3 807.7h.01M908.4 807.8h.01M911.5 807.8h.01M914.7 807.9h.01M917.8 807.9h.01M920.9 807.8h.01M924.0 807.9h.01M927.2 807.8h.01M933.7 619.8h.01M936.8 619.7h.01M940.0 619.7h.01M943.1 619.7h.01M946.2 619.7h.01M949.3 619.8h.01M952.5 619.8h.01M955.6 619.7h.01M958.7 619.6h.01M946.6 619.7h.01M933.7 684.5h.01M936.5 684.5h.01M939.3 684.5h.01M942.1 684.6h.01M945.0 684.6h.01M947.8 684.5h.01M950.6 684.5h.01M953.4 684.5h.01M956.2 684.6h.01M942.2 753.0h.01M944.8 753.0h.01M947.4 753.1h.01M950.0 752.9h.01M952.6 752.9h.01M955.2 753.1h.01M933.7 772.4h.01M936.8 772.6h.01M940.0 772.6h.01M943.1 772.6h.01M946.2 772.6h.01M949.3 772.6h.01M952.5 772.5h.01M955.6 772.4h.01M958.7 772.4h.01M933.7 775.6h.01M936.8 775.6h.01M940.0 775.7h.01M943.1 775.7h.01M946.2 775.7h.01M949.3 775.8h.01M952.5 775.7h.01M955.6 775.6h.01M958.7 775.7h.01M933.7 778.8h.01M936.5 778.8h.01M939.4 779.0h.01M942.2 778.9h.01M945.0 779.0h.01M947.8 778.8h.01M950.6 778.9h.01M953.5 778.9h.01M956.3 778.8h.01M933.7 782.2h.01M936.8 782.1h.01M940.0 782.1h.01M943.1 782.0h.01M946.2 782.0h.01M949.3 782.2h.01M952.5 782.0h.01M955.6 782.0h.01M958.7 782.0h.01M933.7 785.3h.01M936.8 785.4h.01M940.0 785.2h.01M943.1 785.2h.01M946.2 785.4h.01M949.3 785.2h.01M952.5 785.4h.01M955.6 785.3h.01M958.7 785.2h.01M934.1 788.5h.01M937.1 788.5h.01M940.2 788.5h.01M943.3 788.5h.01M946.4 788.4h.01M949.5 788.6h.01M952.5 788.5h.01M955.6 788.6h.01M958.7 788.5h.01M933.7 791.8h.01M936.8 791.8h.01M939.9 791.6h.01M943.0 791.8h.01M946.1 791.8h.01M949.2 791.6h.01M952.3 791.7h.01M955.5 791.8h.01M958.6 791.7h.01M933.7 795.0h.01M936.7 794.8h.01M939.6 794.8h.01M942.6 795.0h.01M945.5 794.9h.01M948.5 795.0h.01M951.4 794.8h.01M954.4 794.8h.01M957.3 794.9h.01M937.1 798.0h.01M939.9 798.1h.01M942.7 798.1h.01M945.5 798.1h.01M948.3 798.0h.01M951.1 798.0h.01M953.9 798.2h.01M956.7 798.1h.01M934.4 801.2h.01M937.3 801.3h.01M940.3 801.3h.01M943.2 801.2h.01M946.1 801.4h.01M949.1 801.2h.01M952.0 801.2h.01M954.9 801.4h.01M957.9 801.2h.01M936.6 804.4h.01M939.8 804.5h.01M942.9 804.6h.01M946.1 804.5h.01M949.3 804.6h.01M952.4 804.4h.01M955.6 804.6h.01M958.7 804.5h.01M935.3 807.6h.01M938.3 807.8h.01M941.3 807.7h.01M944.3 807.7h.01M947.3 807.6h.01M950.3 807.7h.01M953.2 807.6h.01M956.2 807.8h.01M933.7 807.7h.01M936.8 807.8h.01M940.0 807.8h.01M943.1 807.7h.01M946.2 807.9h.01M949.3 807.8h.01M952.5 807.8h.01M955.6 807.8h.01M958.7 807.7h.01M965.3 487.4h.01M968.4 487.4h.01M971.5 487.6h.01M974.6 487.4h.01M977.8 487.5h.01M980.9 487.4h.01M984.0 487.5h.01M987.1 487.5h.01M990.3 487.5h.01M975.0 487.4h.01M965.3 748.0h.01M968.4 748.0h.01M971.5 748.0h.01M974.6 748.2h.01M977.8 748.0h.01M980.9 748.1h.01M984.0 748.2h.01M987.1 748.2h.01M990.3 748.2h.01M966.9 748.2h.01M965.3 771.4h.01M968.4 771.4h.01M971.5 771.6h.01M974.6 771.5h.01M977.8 771.5h.01M980.9 771.5h.01M984.0 771.5h.01M987.1 771.6h.01M990.3 771.4h.01M968.6 771.6h.01M967.5 786.1h.01M970.7 786.1h.01M973.9 786.1h.01M977.1 785.9h.01M980.3 785.9h.01M983.5 785.9h.01M986.7 785.9h.01M989.9 785.9h.01M965.4 789.1h.01M968.2 789.3h.01M971.1 789.2h.01M973.9 789.3h.01M976.7 789.1h.01M979.5 789.2h.01M982.4 789.3h.01M985.2 789.2h.01M988.0 789.1h.01M965.3 792.3h.01M968.4 792.3h.01M971.5 792.5h.01M974.6 792.4h.01M977.8 792.3h.01M980.9 792.3h.01M984.0 792.3h.01M987.1 792.5h.01M990.3 792.3h.01M965.3 795.5h.01M968.4 795.7h.01M971.5 795.6h.01M974.6 795.7h.01M977.8 795.7h.01M980.9 795.5h.01M984.0 795.5h.01M987.1 795.7h.01M990.3 795.6h.01M965.3 798.9h.01M968.4 798.9h.01M971.5 798.8h.01M974.6 798.8h.01M977.8 798.7h.01M980.9 798.9h.01M984.0 798.8h.01M987.1 798.8h.01M990.3 798.9h.01M967.9 802.1h.01M970.8 801.9h.01M973.6 802.0h.01M976.4 802.1h.01M979.3 802.0h.01M982.1 802.0h.01M985.0 801.9h.01M987.8 801.9h.01M966.7 805.1h.01M969.5 805.3h.01M972.3 805.3h.01M975.1 805.1h.01M977.9 805.1h.01M980.7 805.2h.01M983.6 805.2h.01M986.4 805.3h.01M989.2 805.2h.01M965.3 807.7h.01M968.4 807.9h.01M971.5 807.7h.01M974.6 807.8h.01M977.8 807.8h.01M980.9 807.9h.01M984.0 807.8h.01M987.1 807.9h.01M990.3 807.7h.01M996.8 710.3h.01M999.9 710.3h.01M1003.1 710.4h.01M1006.2 710.4h.01M1009.3 710.2h.01M1012.4 710.2h.01M1015.6 710.3h.01M1018.7 710.2h.01M1021.8 710.2h.01M1013.5 710.2h.01M996.8 739.7h.01M999.9 739.6h.01M1003.1 739.5h.01M1006.2 739.5h.01M1009.3 739.6h.01M1012.4 739.6h.01M1015.6 739.5h.01M1018.7 739.5h.01M1021.8 739.5h.01M1001.7 739.7h.01M996.8 758.1h.01M999.6 758.0h.01M1002.4 757.9h.01M1005.2 758.0h.01M1008.1 758.0h.01M1010.9 757.9h.01M1013.7 758.0h.01M1016.5 757.9h.01M1019.3 758.1h.01M996.8 761.3h.01M999.9 761.2h.01M1003.1 761.1h.01M1006.2 761.1h.01M1009.3 761.1h.01M1012.4 761.1h.01M1015.6 761.3h.01M1018.7 761.3h.01M1021.8 761.1h.01M999.0 764.5h.01M1001.9 764.3h.01M1004.7 764.5h.01M1007.6 764.5h.01M1010.4 764.5h.01M1013.3 764.3h.01M1016.1 764.3h.01M1019.0 764.5h.01M1021.8 764.3h.01M998.7 767.5h.01M1001.6 767.5h.01M1004.5 767.6h.01M1007.4 767.6h.01M1010.3 767.7h.01M1013.1 767.7h.01M1016.0 767.7h.01M1018.9 767.7h.01M996.8 770.7h.01M999.9 770.7h.01M1003.1 770.8h.01M1006.2 770.7h.01M1009.3 770.9h.01M1012.4 770.7h.01M1015.6 770.8h.01M1018.7 770.9h.01M1021.8 770.7h.01M998.3 773.9h.01M1001.3 774.1h.01M1004.3 774.1h.01M1007.3 774.1h.01M1010.3 774.0h.01M1013.3 773.9h.01M1016.3 774.0h.01M1019.3 774.0h.01M998.0 777.3h.01M1001.1 777.3h.01M1004.1 777.1h.01M1007.2 777.1h.01M1010.3 777.2h.01M1013.3 777.2h.01M1016.4 777.2h.01M1019.5 777.1h.01M997.9 780.5h.01M1000.9 780.5h.01M1003.9 780.5h.01M1006.9 780.5h.01M1009.9 780.5h.01M1012.9 780.4h.01M1015.8 780.5h.01M1018.8 780.3h.01M1021.8 780.5h.01M996.8 783.7h.01M999.7 783.6h.01M1002.6 783.6h.01M1005.4 783.5h.01M1008.3 783.6h.01M1011.2 783.7h.01M1014.1 783.5h.01M1016.9 783.5h.01M1019.8 783.7h.01M997.1 786.8h.01M1000.2 786.8h.01M1003.3 786.8h.01M1006.4 786.8h.01M1009.5 786.8h.01M1012.5 786.8h.01M1015.6 786.7h.01M1018.7 786.7h.01M1021.8 786.9h.01M996.8 789.9h.01M999.9 789.9h.01M1003.1 790.0h.01M1006.2 789.9h.01M1009.4 790.0h.01M1012.5 790.0h.01M1015.7 789.9h.01M1018.8 790.0h.01M998.6 793.1h.01M1001.5 793.2h.01M1004.4 793.1h.01M1007.3 793.2h.01M1010.2 793.3h.01M1013.1 793.2h.01M1016.0 793.3h.01M1018.9 793.3h.01M1021.8 793.1h.01M996.8 796.3h.01M999.9 796.5h.01M1003.1 796.4h.01M1006.2 796.3h.01M1009.3 796.5h.01M1012.4 796.4h.01M1015.6 796.5h.01M1018.7 796.3h.01M1021.8 796.5h.01M997.6 799.6h.01M1000.7 799.5h.01M1003.7 799.5h.01M1006.7 799.7h.01M1009.7 799.6h.01M1012.7 799.7h.01M1015.7 799.6h.01M1018.7 799.7h.01M1021.8 799.6h.01M996.8 802.7h.01M999.9 802.9h.01M1003.1 802.8h.01M1006.2 802.9h.01M1009.3 802.9h.01M1012.4 802.9h.01M1015.6 802.7h.01M1018.7 802.8h.01M1021.8 802.9h.01M996.8 805.9h.01M999.9 806.0h.01M1003.1 805.9h.01M1006.2 806.0h.01M1009.3 806.1h.01M1012.4 805.9h.01M1015.6 806.1h.01M1018.7 806.1h.01M1021.8 805.9h.01M996.8 807.7h.01M999.9 807.8h.01M1003.1 807.9h.01M1006.2 807.8h.01M1009.3 807.7h.01M1012.4 807.7h.01M1015.6 807.7h.01M1018.7 807.9h.01M1021.8 807.7h.01M1028.4 769.0h.01M1031.4 768.9h.01M1034.4 769.1h.01M1037.4 769.0h.01M1040.4 768.9h.01M1043.4 769.1h.01M1046.4 769.0h.01M1028.4 772.3h.01M1031.4 772.3h.01M1034.4 772.3h.01M1037.4 772.1h.01M1040.4 772.2h.01M1043.4 772.1h.01M1046.4 772.2h.01M1028.4 775.5h.01M1031.4 775.5h.01M1034.4 775.3h.01M1037.4 775.3h.01M1040.4 775.5h.01M1043.4 775.5h.01M1046.4 775.4h.01M1028.4 778.6h.01M1031.4 778.5h.01M1034.5 778.7h.01M1037.6 778.6h.01M1040.7 778.7h.01M1043.8 778.6h.01M1046.9 778.5h.01M1028.4 781.7h.01M1031.1 781.7h.01M1033.9 781.9h.01M1036.7 781.8h.01M1039.5 781.7h.01M1042.3 781.7h.01M1045.1 781.8h.01M1047.9 781.8h.01M1028.4 785.0h.01M1031.4 785.0h.01M1034.5 785.0h.01M1037.6 784.9h.01M1040.6 785.0h.01M1043.7 785.0h.01M1046.8 784.9h.01M1049.9 785.0h.01M1028.4 788.3h.01M1031.4 788.1h.01M1034.5 788.1h.01M1037.5 788.2h.01M1040.6 788.1h.01M1043.7 788.2h.01M1046.7 788.2h.01M1049.8 788.3h.01M1052.8 788.3h.01M1030.3 791.5h.01M1033.2 791.5h.01M1036.1 791.4h.01M1039.0 791.4h.01M1041.8 791.4h.01M1044.7 791.3h.01M1047.6 791.5h.01M1050.5 791.5h.01M1053.4 791.5h.01M1028.4 794.7h.01M1031.5 794.6h.01M1034.7 794.6h.01M1037.9 794.6h.01M1041.1 794.6h.01M1044.3 794.6h.01M1047.5 794.5h.01M1050.7 794.6h.01M1031.8 797.8h.01M1034.9 797.7h.01M1038.0 797.7h.01M1041.0 797.8h.01M1044.1 797.7h.01M1047.2 797.7h.01M1050.3 797.9h.01M1053.4 797.8h.01M1030.3 800.9h.01M1033.1 800.9h.01M1036.0 800.9h.01M1038.8 801.1h.01M1041.6 801.0h.01M1044.4 801.1h.01M1047.2 801.0h.01M1050.0 801.1h.01M1052.8 801.0h.01M1029.0 804.3h.01M1032.0 804.2h.01M1035.1 804.3h.01M1038.1 804.2h.01M1041.2 804.3h.01M1044.2 804.1h.01M1047.3 804.2h.01M1050.3 804.3h.01M1053.4 804.1h.01M1028.4 807.5h.01M1031.4 807.3h.01M1034.4 807.4h.01M1037.4 807.3h.01M1040.4 807.4h.01M1043.4 807.5h.01M1046.4 807.4h.01M1049.4 807.3h.01M1052.4 807.5h.01M1028.4 807.9h.01M1031.5 807.8h.01M1034.6 807.7h.01M1037.7 807.9h.01M1040.9 807.9h.01M1044.0 807.8h.01M1047.1 807.7h.01M1050.2 807.7h.01M1053.4 807.8h.01M1059.9 100.6h.01M1063.0 100.7h.01M1066.2 100.5h.01M1069.3 100.5h.01M1072.4 100.7h.01M1075.5 100.6h.01M1078.7 100.6h.01M1081.8 100.7h.01M1084.9 100.6h.01M1081.8 100.5h.01M1059.9 420.2h.01M1063.0 420.3h.01M1066.2 420.3h.01M1069.3 420.3h.01M1072.4 420.3h.01M1075.5 420.2h.01M1078.7 420.3h.01M1081.8 420.2h.01M1084.9 420.4h.01M1070.3 420.3h.01M1059.9 586.9h.01M1063.0 587.0h.01M1066.2 587.1h.01M1069.3 586.9h.01M1072.4 586.9h.01M1075.5 586.9h.01M1078.7 586.9h.01M1081.8 587.1h.01M1084.9 586.9h.01M1084.6 587.1h.01M1059.9 592.6h.01M1063.0 592.6h.01M1066.2 592.6h.01M1069.3 592.6h.01M1072.4 592.6h.01M1075.5 592.5h.01M1078.7 592.7h.01M1081.8 592.5h.01M1084.9 592.7h.01M1070.5 592.7h.01M1059.9 665.2h.01M1063.0 665.4h.01M1066.2 665.4h.01M1069.3 665.3h.01M1072.4 665.2h.01M1075.5 665.3h.01M1078.7 665.4h.01M1081.8 665.2h.01M1084.9 665.2h.01M1079.3 665.3h.01M1059.9 705.8h.01M1063.0 705.7h.01M1066.2 705.8h.01M1069.3 705.6h.01M1072.4 705.8h.01M1075.5 705.6h.01M1078.7 705.6h.01M1081.8 705.6h.01M1084.9 705.6h.01M1076.3 705.7h.01M1059.9 738.3h.01M1063.0 738.5h.01M1066.2 738.4h.01M1069.3 738.3h.01M1072.4 738.3h.01M1075.5 738.5h.01M1078.7 738.5h.01M1081.8 738.3h.01M1084.9 738.3h.01M1073.8 738.5h.01M1059.9 750.9h.01M1063.0 751.1h.01M1066.2 751.0h.01M1069.3 751.0h.01M1072.4 751.0h.01M1075.5 751.1h.01M1078.7 751.0h.01M1081.8 750.9h.01M1084.9 751.1h.01M1059.9 754.1h.01M1063.0 754.3h.01M1066.2 754.1h.01M1069.3 754.2h.01M1072.4 754.2h.01M1075.5 754.3h.01M1078.7 754.1h.01M1081.8 754.2h.01M1084.9 754.2h.01M1059.9 757.5h.01M1063.0 757.5h.01M1066.2 757.4h.01M1069.3 757.3h.01M1072.4 757.3h.01M1075.5 757.3h.01M1078.7 757.4h.01M1081.8 757.3h.01M1084.9 757.3h.01M1059.9 760.7h.01M1063.0 760.6h.01M1066.2 760.5h.01M1069.3 760.7h.01M1072.4 760.5h.01M1075.5 760.6h.01M1078.7 760.5h.01M1081.8 760.7h.01M1084.9 760.7h.01M1059.9 763.7h.01M1063.0 763.9h.01M1066.2 763.9h.01M1069.3 763.7h.01M1072.4 763.7h.01M1075.5 763.8h.01M1078.7 763.9h.01M1081.8 763.7h.01M1084.9 763.9h.01M1059.9 767.0h.01M1063.0 767.0h.01M1066.2 767.0h.01M1069.3 767.1h.01M1072.4 766.9h.01M1075.5 767.1h.01M1078.7 767.0h.01M1081.8 767.1h.01M1084.9 767.1h.01M1062.4 770.1h.01M1065.2 770.3h.01M1068.0 770.3h.01M1070.8 770.1h.01M1073.7 770.1h.01M1076.5 770.1h.01M1079.3 770.3h.01M1082.1 770.1h.01M1084.9 770.3h.01M1063.4 773.3h.01M1066.5 773.5h.01M1069.5 773.3h.01M1072.6 773.3h.01M1075.7 773.5h.01M1078.8 773.3h.01M1081.8 773.4h.01M1084.9 773.5h.01M1063.4 776.7h.01M1066.6 776.7h.01M1069.7 776.7h.01M1072.9 776.5h.01M1076.1 776.5h.01M1079.2 776.7h.01M1082.4 776.7h.01M1063.4 779.7h.01M1066.4 779.8h.01M1069.4 779.7h.01M1072.4 779.8h.01M1075.4 779.7h.01M1078.4 779.7h.01M1081.4 779.9h.01M1062.4 782.9h.01M1065.6 783.1h.01M1068.7 782.9h.01M1071.9 783.0h.01M1075.1 782.9h.01M1078.2 783.0h.01M1081.4 782.9h.01M1059.9 786.3h.01M1063.0 786.1h.01M1066.0 786.3h.01M1069.1 786.2h.01M1072.2 786.1h.01M1075.3 786.2h.01M1078.3 786.2h.01M1081.4 786.3h.01M1059.9 789.4h.01M1062.7 789.3h.01M1065.5 789.5h.01M1068.3 789.5h.01M1071.2 789.5h.01M1074.0 789.3h.01M1076.8 789.3h.01M1079.6 789.3h.01M1082.4 789.3h.01M1061.7 792.6h.01M1064.7 792.5h.01M1067.8 792.7h.01M1070.8 792.6h.01M1073.8 792.6h.01M1076.9 792.6h.01M1079.9 792.7h.01M1083.0 792.7h.01M1059.9 795.8h.01M1063.0 795.7h.01M1066.2 795.8h.01M1069.3 795.9h.01M1072.4 795.8h.01M1075.5 795.8h.01M1078.7 795.8h.01M1081.8 795.7h.01M1084.9 795.9h.01M1062.0 798.9h.01M1064.9 799.0h.01M1067.7 799.0h.01M1070.6 798.9h.01M1073.5 798.9h.01M1076.3 798.9h.01M1079.2 799.1h.01M1082.0 799.1h.01M1084.9 799.1h.01M1062.3 802.2h.01M1065.2 802.1h.01M1068.1 802.3h.01M1071.0 802.1h.01M1073.9 802.3h.01M1076.8 802.3h.01M1079.7 802.2h.01M1082.6 802.2h.01M1059.9 805.5h.01M1062.8 805.4h.01M1065.6 805.5h.01M1068.5 805.4h.01M1071.3 805.4h.01M1074.2 805.4h.01M1077.0 805.5h.01M1079.9 805.3h.01M1082.7 805.4h.01M1059.9 807.8h.01M1063.0 807.7h.01M1066.2 807.8h.01M1069.3 807.7h.01M1072.4 807.9h.01M1075.5 807.8h.01M1078.7 807.9h.01M1081.8 807.8h.01M1084.9 807.8h.01M1091.5 224.7h.01M1094.6 224.9h.01M1097.7 224.8h.01M1100.8 224.8h.01M1104.0 224.8h.01M1107.1 224.9h.01M1110.2 224.7h.01M1113.3 224.7h.01M1116.5 224.9h.01M1097.0 224.8h.01M1091.5 432.4h.01M1094.6 432.4h.01M1097.7 432.4h.01M1100.8 432.2h.01M1104.0 432.3h.01M1107.1 432.4h.01M1110.2 432.4h.01M1113.3 432.2h.01M1116.5 432.2h.01M1107.5 432.2h.01M1093.5 614.7h.01M1096.5 614.8h.01M1099.5 614.7h.01M1102.5 614.7h.01M1105.5 614.6h.01M1108.5 614.7h.01M1111.5 614.8h.01M1114.5 614.8h.01M1095.6 614.7h.01M1091.5 660.1h.01M1094.6 660.1h.01M1097.7 659.9h.01M1100.8 660.1h.01M1104.0 660.0h.01M1107.1 660.0h.01M1110.2 659.9h.01M1113.3 660.0h.01M1116.5 660.0h.01M1103.4 660.0h.01M1091.5 673.3h.01M1094.6 673.4h.01M1097.7 673.3h.01M1100.8 673.3h.01M1104.0 673.5h.01M1107.1 673.3h.01M1110.2 673.3h.01M1113.3 673.3h.01M1116.5 673.5h.01M1091.9 673.3h.01M1096.0 686.0h.01M1099.0 686.1h.01M1102.0 685.9h.01M1105.0 686.0h.01M1108.0 686.1h.01M1111.0 686.0h.01M1091.5 711.2h.01M1094.6 711.3h.01M1097.7 711.3h.01M1100.8 711.4h.01M1104.0 711.2h.01M1107.1 711.3h.01M1110.2 711.3h.01M1113.3 711.4h.01M1116.5 711.3h.01M1100.7 711.3h.01M1091.5 735.9h.01M1094.6 735.7h.01M1097.7 735.9h.01M1100.8 735.9h.01M1104.0 735.8h.01M1107.1 735.8h.01M1110.2 735.7h.01M1113.3 735.7h.01M1116.5 735.9h.01M1105.9 735.8h.01M1091.5 750.1h.01M1094.6 750.1h.01M1097.7 749.9h.01M1100.8 750.0h.01M1104.0 750.0h.01M1107.1 750.0h.01M1110.2 750.1h.01M1113.3 750.0h.01M1116.5 750.0h.01M1091.5 753.2h.01M1094.4 753.3h.01M1097.3 753.3h.01M1100.2 753.3h.01M1103.1 753.2h.01M1106.0 753.1h.01M1108.9 753.3h.01M1111.8 753.2h.01M1114.7 753.3h.01M1091.5 756.3h.01M1094.5 756.5h.01M1097.5 756.3h.01M1100.5 756.3h.01M1103.6 756.5h.01M1106.6 756.4h.01M1109.6 756.3h.01M1112.7 756.5h.01M1115.7 756.5h.01M1091.5 759.6h.01M1094.3 759.6h.01M1097.1 759.7h.01M1099.9 759.7h.01M1102.7 759.7h.01M1105.6 759.5h.01M1108.4 759.6h.01M1111.2 759.6h.01M1114.0 759.5h.01M1091.5 762.7h.01M1094.5 762.7h.01M1097.5 762.9h.01M1100.5 762.8h.01M1103.5 762.8h.01M1106.5 762.8h.01M1109.5 762.7h.01M1112.5 762.7h.01M1115.5 762.9h.01M1091.5 765.9h.01M1094.6 765.9h.01M1097.7 765.9h.01M1100.8 766.0h.01M1104.0 766.0h.01M1107.1 766.0h.01M1110.2 766.0h.01M1113.3 766.0h.01M1116.5 766.0h.01M1091.5 769.2h.01M1094.6 769.1h.01M1097.7 769.1h.01M1100.8 769.2h.01M1103.9 769.2h.01M1107.0 769.2h.01M1110.1 769.1h.01M1113.2 769.1h.01M1091.5 772.5h.01M1094.3 772.4h.01M1097.1 772.4h.01M1099.9 772.5h.01M1102.7 772.4h.01M1105.5 772.5h.01M1108.3 772.3h.01M1111.2 772.4h.01M1114.0 772.4h.01M1094.5 775.5h.01M1097.3 775.7h.01M1100.2 775.6h.01M1103.0 775.7h.01M1105.8 775.6h.01M1108.7 775.7h.01M1111.5 775.7h.01M1114.4 775.5h.01M1094.4 778.7h.01M1097.5 778.7h.01M1100.7 778.7h.01M1103.8 778.9h.01M1107.0 778.9h.01M1110.1 778.8h.01M1113.2 778.8h.01M1094.6 781.9h.01M1097.7 781.9h.01M1100.9 782.1h.01M1104.0 781.9h.01M1107.1 782.1h.01M1110.2 781.9h.01M1113.3 781.9h.01M1116.5 782.0h.01M1093.4 785.1h.01M1096.2 785.3h.01M1099.1 785.1h.01M1101.9 785.3h.01M1104.8 785.3h.01M1107.6 785.2h.01M1110.4 785.1h.01M1113.3 785.2h.01M1091.5 788.3h.01M1094.3 788.4h.01M1097.2 788.5h.01M1100.1 788.4h.01M1103.0 788.5h.01M1105.9 788.3h.01M1108.8 788.5h.01M1111.7 788.3h.01M1114.5 788.5h.01M1091.5 791.6h.01M1094.6 791.5h.01M1097.7 791.6h.01M1100.8 791.7h.01M1104.0 791.6h.01M1107.1 791.7h.01M1110.2 791.5h.01M1113.3 791.6h.01M1116.5 791.7h.01M1091.5 794.7h.01M1094.6 794.7h.01M1097.7 794.7h.01M1100.8 794.9h.01M1104.0 794.9h.01M1107.1 794.7h.01M1110.2 794.9h.01M1113.3 794.7h.01M1116.5 794.8h.01M1091.5 798.0h.01M1094.6 797.9h.01M1097.7 797.9h.01M1100.7 798.0h.01M1103.8 797.9h.01M1106.9 798.1h.01M1110.0 797.9h.01M1113.1 798.1h.01M1091.7 801.1h.01M1094.8 801.2h.01M1097.9 801.3h.01M1101.0 801.2h.01M1104.1 801.2h.01M1107.2 801.1h.01M1110.3 801.2h.01M1113.4 801.1h.01M1116.5 801.2h.01M1093.5 804.4h.01M1096.6 804.3h.01M1099.7 804.3h.01M1102.8 804.5h.01M1105.9 804.3h.01M1109.0 804.5h.01M1112.0 804.5h.01M1115.1 804.4h.01M1091.8 807.5h.01M1094.9 807.6h.01M1097.9 807.6h.01M1101.0 807.5h.01M1104.1 807.6h.01M1107.2 807.5h.01M1110.3 807.6h.01M1113.4 807.6h.01M1116.5 807.6h.01M1091.5 807.7h.01M1094.6 807.8h.01M1097.7 807.7h.01M1100.8 807.7h.01M1104.0 807.7h.01M1107.1 807.9h.01M1110.2 807.8h.01M1113.3 807.9h.01M1116.5 807.7h.01M1123.0 362.1h.01M1126.1 362.2h.01M1129.2 362.1h.01M1132.4 362.2h.01M1135.5 362.0h.01M1138.6 362.2h.01M1141.8 362.0h.01M1144.9 362.0h.01M1148.0 362.0h.01M1146.6 362.1h.01M1123.0 426.3h.01M1126.1 426.5h.01M1129.2 426.3h.01M1132.4 426.4h.01M1135.5 426.3h.01M1138.6 426.4h.01M1141.8 426.5h.01M1144.9 426.5h.01M1148.0 426.3h.01M1136.0 426.3h.01M1123.0 543.9h.01M1126.1 543.7h.01M1129.2 543.8h.01M1132.4 543.9h.01M1135.5 543.9h.01M1138.6 543.8h.01M1141.8 543.9h.01M1144.9 543.8h.01M1148.0 543.9h.01M1138.0 543.7h.01M1123.0 689.0h.01M1126.1 689.0h.01M1129.2 688.9h.01M1132.4 688.9h.01M1135.5 689.1h.01M1138.6 689.1h.01M1141.8 688.9h.01M1144.9 689.0h.01M1148.0 688.9h.01M1146.5 688.9h.01M1123.0 704.5h.01M1126.1 704.7h.01M1129.2 704.7h.01M1132.4 704.7h.01M1135.5 704.6h.01M1138.6 704.6h.01M1141.8 704.7h.01M1144.9 704.7h.01M1148.0 704.7h.01M1128.5 704.6h.01M1123.0 713.5h.01M1126.1 713.6h.01M1129.2 713.6h.01M1132.3 713.4h.01M1135.4 713.6h.01M1138.5 713.5h.01M1126.1 713.4h.01M1126 728.5h.01M1141 728.5h.01M1124 736.8h.01M1138.5 738h.01M1127 759.5h.01M1136 759.3h.01M1145 759.5h.01M1123.0 774.6h.01M1126.1 774.4h.01M1129.2 774.6h.01M1132.4 774.6h.01M1135.5 774.6h.01M1138.6 774.6h.01M1141.8 774.6h.01M1144.9 774.6h.01M1148.0 774.5h.01M1125.9 777.8h.01M1129.0 777.6h.01M1132.2 777.8h.01M1135.4 777.7h.01M1138.5 777.8h.01M1141.7 777.6h.01M1144.8 777.8h.01M1148.0 777.8h.01M1125.9 780.9h.01M1129.0 780.8h.01M1132.0 780.9h.01M1135.1 781.0h.01M1138.1 781.0h.01M1141.2 781.0h.01M1144.3 780.9h.01M1147.3 781.0h.01M1123.0 784.2h.01M1126.1 784.2h.01M1129.2 784.1h.01M1132.4 784.0h.01M1135.5 784.1h.01M1138.6 784.2h.01M1141.8 784.1h.01M1144.9 784.1h.01M1148.0 784.2h.01M1123.0 787.2h.01M1125.9 787.2h.01M1128.8 787.4h.01M1131.7 787.3h.01M1134.6 787.3h.01M1137.6 787.3h.01M1140.5 787.3h.01M1143.4 787.2h.01M1146.3 787.3h.01M1123.0 790.4h.01M1126.1 790.4h.01M1129.2 790.4h.01M1132.4 790.6h.01M1135.5 790.5h.01M1138.6 790.5h.01M1141.8 790.6h.01M1144.9 790.4h.01M1148.0 790.6h.01M1125.9 793.8h.01M1128.9 793.7h.01M1131.9 793.6h.01M1135.0 793.8h.01M1138.0 793.7h.01M1141.0 793.8h.01M1144.0 793.7h.01M1147.0 793.7h.01M1123.0 797.0h.01M1126.1 796.8h.01M1129.2 797.0h.01M1132.4 796.8h.01M1135.5 796.9h.01M1138.6 796.8h.01M1141.8 796.8h.01M1144.9 797.0h.01M1148.0 796.9h.01M1123.0 800.0h.01M1126.0 800.1h.01M1128.9 800.2h.01M1131.9 800.1h.01M1134.9 800.1h.01M1137.9 800.2h.01M1140.8 800.2h.01M1143.8 800.1h.01M1146.8 800.0h.01M1123.0 803.3h.01M1126.1 803.3h.01M1129.2 803.3h.01M1132.3 803.3h.01M1135.4 803.3h.01M1138.5 803.4h.01M1141.6 803.4h.01M1144.6 803.3h.01M1126.4 806.6h.01M1129.5 806.5h.01M1132.6 806.5h.01M1135.7 806.6h.01M1138.9 806.6h.01M1142.0 806.6h.01M1145.1 806.6h.01M1123.0 807.7h.01M1126.1 807.7h.01M1129.2 807.7h.01M1132.4 807.9h.01M1135.5 807.9h.01M1138.6 807.7h.01M1141.8 807.8h.01M1144.9 807.8h.01M1148.0 807.7h.01M1154.5 224.5h.01M1157.7 224.4h.01M1160.8 224.3h.01M1163.9 224.5h.01M1167.0 224.3h.01M1170.2 224.4h.01M1173.3 224.4h.01M1176.4 224.5h.01M1179.5 224.4h.01M1164.4 224.5h.01M1154.5 555.3h.01M1157.7 555.4h.01M1160.8 555.4h.01M1163.9 555.4h.01M1167.0 555.2h.01M1170.2 555.2h.01M1173.3 555.3h.01M1176.4 555.4h.01M1179.5 555.4h.01M1171.5 555.3h.01M1154.5 594.4h.01M1157.7 594.5h.01M1160.8 594.3h.01M1163.9 594.5h.01M1167.0 594.3h.01M1170.2 594.3h.01M1173.3 594.3h.01M1176.4 594.3h.01M1179.5 594.4h.01M1158.0 594.5h.01M1154.5 666.8h.01M1157.7 666.8h.01M1160.8 667.0h.01M1163.9 666.8h.01M1167.0 666.8h.01M1170.2 666.9h.01M1173.3 666.8h.01M1176.4 666.8h.01M1179.5 666.9h.01M1178.6 666.9h.01M1154.5 687.9h.01M1157.5 687.9h.01M1160.5 688.1h.01M1163.5 688.0h.01M1166.5 688.1h.01M1169.5 688.0h.01M1172.5 688.1h.01M1175.5 687.9h.01M1174.8 687.9h.01M1154.5 728.5h.01M1157.7 728.5h.01M1160.8 728.6h.01M1163.9 728.6h.01M1167.0 728.4h.01M1170.2 728.5h.01M1173.3 728.6h.01M1176.4 728.5h.01M1179.5 728.4h.01M1173.5 728.5h.01M1157.2 745.5h.01M1160.0 745.5h.01M1162.8 745.6h.01M1165.6 745.4h.01M1168.3 745.4h.01M1171.1 745.4h.01M1173.9 745.5h.01M1176.7 745.6h.01M1154.5 748.6h.01M1157.7 748.6h.01M1160.9 748.7h.01M1164.1 748.8h.01M1167.2 748.7h.01M1170.4 748.8h.01M1173.6 748.8h.01M1176.7 748.7h.01M1154.5 751.9h.01M1157.7 751.9h.01M1160.8 752.0h.01M1163.9 751.9h.01M1167.0 751.8h.01M1170.2 752.0h.01M1173.3 751.9h.01M1176.4 751.9h.01M1179.5 752.0h.01M1154.5 755.0h.01M1157.5 755.1h.01M1160.5 755.1h.01M1163.5 755.2h.01M1166.5 755.2h.01M1169.4 755.1h.01M1172.4 755.1h.01M1175.4 755.1h.01M1178.4 755.0h.01M1154.5 758.4h.01M1157.7 758.2h.01M1160.8 758.4h.01M1163.9 758.4h.01M1167.0 758.3h.01M1170.2 758.4h.01M1173.3 758.4h.01M1176.4 758.4h.01M1179.5 758.4h.01M1154.5 761.4h.01M1157.7 761.6h.01M1160.8 761.6h.01M1163.9 761.5h.01M1167.0 761.4h.01M1170.2 761.4h.01M1173.3 761.5h.01M1176.4 761.6h.01M1179.5 761.4h.01M1155.3 764.8h.01M1158.5 764.8h.01M1161.6 764.7h.01M1164.7 764.8h.01M1167.8 764.6h.01M1170.9 764.8h.01M1174.1 764.6h.01M1177.2 764.6h.01M1154.5 767.8h.01M1157.6 767.9h.01M1160.6 767.9h.01M1163.6 768.0h.01M1166.6 767.8h.01M1169.6 768.0h.01M1172.6 767.8h.01M1175.6 767.8h.01M1178.6 767.9h.01M1155.7 771.0h.01M1158.7 771.2h.01M1161.7 771.0h.01M1164.6 771.2h.01M1167.6 771.2h.01M1170.6 771.1h.01M1173.6 771.0h.01M1176.6 771.2h.01M1179.5 771.0h.01M1154.5 774.3h.01M1157.6 774.4h.01M1160.7 774.3h.01M1163.8 774.3h.01M1166.9 774.3h.01M1170.0 774.3h.01M1173.1 774.2h.01M1176.2 774.4h.01M1179.3 774.4h.01M1154.5 777.4h.01M1157.7 777.6h.01M1160.8 777.4h.01M1163.9 777.5h.01M1167.0 777.4h.01M1170.2 777.5h.01M1173.3 777.6h.01M1176.4 777.6h.01M1179.5 777.5h.01M1155.2 780.6h.01M1158.1 780.8h.01M1161.0 780.7h.01M1164.0 780.7h.01M1166.9 780.6h.01M1169.8 780.8h.01M1172.7 780.6h.01M1175.6 780.6h.01M1178.6 780.7h.01M1154.5 784.0h.01M1157.7 784.0h.01M1160.8 784.0h.01M1163.9 784.0h.01M1167.0 784.0h.01M1170.2 783.8h.01M1173.3 783.8h.01M1176.4 783.8h.01M1179.5 784.0h.01M1154.5 787.0h.01M1157.7 787.1h.01M1160.8 787.0h.01M1163.9 787.1h.01M1167.0 787.2h.01M1170.2 787.0h.01M1173.3 787.0h.01M1176.4 787.0h.01M1179.5 787.1h.01M1154.5 790.3h.01M1157.7 790.2h.01M1160.8 790.2h.01M1163.9 790.2h.01M1167.0 790.4h.01M1170.2 790.3h.01M1173.3 790.4h.01M1176.4 790.4h.01M1179.5 790.4h.01M1154.5 793.4h.01M1157.7 793.4h.01M1160.8 793.5h.01M1163.9 793.5h.01M1167.0 793.4h.01M1170.2 793.4h.01M1173.3 793.4h.01M1176.4 793.6h.01M1179.5 793.6h.01M1154.5 796.7h.01M1157.7 796.8h.01M1160.8 796.7h.01M1163.9 796.8h.01M1167.0 796.8h.01M1170.2 796.6h.01M1173.3 796.6h.01M1176.4 796.6h.01M1179.5 796.7h.01M1154.6 800.0h.01M1157.7 799.9h.01M1160.8 799.8h.01M1163.9 800.0h.01M1167.1 799.9h.01M1170.2 799.8h.01M1173.3 799.8h.01M1176.4 799.9h.01M1179.5 800.0h.01M1154.5 803.0h.01M1157.7 803.0h.01M1160.8 803.2h.01M1163.9 803.1h.01M1167.0 803.0h.01M1170.2 803.1h.01M1173.3 803.0h.01M1176.4 803.0h.01M1179.5 803.1h.01M1154.5 806.4h.01M1157.7 806.3h.01M1160.8 806.2h.01M1163.9 806.4h.01M1167.0 806.2h.01M1170.2 806.3h.01M1173.3 806.3h.01M1176.4 806.4h.01M1179.5 806.4h.01M1154.5 807.7h.01M1157.7 807.8h.01M1160.8 807.9h.01M1163.9 807.8h.01M1167.0 807.7h.01M1170.2 807.9h.01M1173.3 807.8h.01M1176.4 807.7h.01M1179.5 807.7h.01M1186.1 777.1h.01M1189.0 777.1h.01M1192.0 777.0h.01M1195.0 777.1h.01M1197.9 776.9h.01M1200.9 776.9h.01M1203.8 777.1h.01M1206.8 777.1h.01M1209.7 776.9h.01M1186.9 780.1h.01M1190.0 780.3h.01M1193.0 780.3h.01M1196.0 780.2h.01M1199.0 780.3h.01M1202.0 780.1h.01M1205.1 780.1h.01M1208.1 780.1h.01M1211.1 780.3h.01M1189.5 783.3h.01M1192.6 783.5h.01M1195.7 783.3h.01M1198.8 783.4h.01M1201.8 783.3h.01M1204.9 783.5h.01M1208.0 783.5h.01M1211.1 783.5h.01M1189.1 786.7h.01M1192.2 786.6h.01M1195.4 786.6h.01M1198.5 786.6h.01M1201.7 786.7h.01M1204.8 786.5h.01M1208.0 786.5h.01M1211.1 786.6h.01M1187.5 789.7h.01M1190.5 789.9h.01M1193.5 789.9h.01M1196.5 789.8h.01M1199.5 789.7h.01M1202.5 789.8h.01M1205.5 789.7h.01M1208.5 789.8h.01M1189.5 793.0h.01M1192.6 792.9h.01M1195.7 793.1h.01M1198.8 793.1h.01M1201.8 793.1h.01M1204.9 792.9h.01M1208.0 793.0h.01M1211.1 792.9h.01M1186.1 796.3h.01M1189.0 796.3h.01M1191.8 796.1h.01M1194.7 796.1h.01M1197.5 796.1h.01M1200.4 796.3h.01M1203.3 796.2h.01M1206.1 796.2h.01M1209.0 796.2h.01M1188.2 799.5h.01M1191.1 799.5h.01M1193.9 799.5h.01M1196.8 799.5h.01M1199.7 799.5h.01M1202.5 799.5h.01M1205.4 799.3h.01M1208.2 799.5h.01M1211.1 799.5h.01M1189.2 802.6h.01M1192.3 802.7h.01M1195.4 802.5h.01M1198.5 802.5h.01M1201.6 802.6h.01M1204.7 802.5h.01M1207.8 802.5h.01M1189.5 805.9h.01M1192.6 805.9h.01M1195.7 805.9h.01M1198.8 805.9h.01M1201.9 805.9h.01M1204.9 805.7h.01M1208.0 805.7h.01M1211.1 805.8h.01M1186.1 807.7h.01M1189.2 807.7h.01M1192.3 807.9h.01M1195.5 807.9h.01M1198.6 807.7h.01M1201.7 807.9h.01M1204.8 807.9h.01M1208.0 807.9h.01M1211.1 807.9h.01M1249.2 691.2h.01M1252.1 691.1h.01M1255.0 691.3h.01M1258.0 691.1h.01M1260.9 691.2h.01M1263.8 691.2h.01M1266.8 691.2h.01M1269.7 691.3h.01M1249.2 695.8h.01M1252.2 695.8h.01M1255.2 695.8h.01M1258.2 695.9h.01M1261.2 695.8h.01M1264.2 695.9h.01M1267.2 695.9h.01M1270.2 695.9h.01M1273.2 695.7h.01M1253.1 695.7h.01M1252.7 728.1h.01M1255.8 727.9h.01M1258.9 727.9h.01M1261.9 728.1h.01M1265.0 728.1h.01M1268.1 727.9h.01M1271.2 728.0h.01M1258.0 728.1h.01M1249.2 751.1h.01M1252.3 751.1h.01M1255.4 750.9h.01M1258.4 750.9h.01M1261.5 750.9h.01M1264.6 751.1h.01M1267.7 750.9h.01M1262.0 750.9h.01M1250.7 756.4h.01M1253.5 756.3h.01M1256.3 756.3h.01M1259.1 756.3h.01M1261.9 756.3h.01M1264.8 756.4h.01M1267.6 756.2h.01M1270.4 756.2h.01M1273.2 756.2h.01M1250.5 779.0h.01M1253.5 779.1h.01M1256.6 779.1h.01M1259.6 778.9h.01M1262.7 779.1h.01M1265.7 778.9h.01M1268.7 778.9h.01M1271.8 778.9h.01M1251.6 782.1h.01M1254.6 782.3h.01M1257.6 782.2h.01M1260.6 782.3h.01M1263.6 782.1h.01M1266.6 782.3h.01M1269.6 782.1h.01M1249.2 785.5h.01M1252.1 785.3h.01M1254.9 785.3h.01M1257.8 785.3h.01M1260.7 785.5h.01M1263.6 785.3h.01M1266.4 785.4h.01M1269.3 785.4h.01M1272.2 785.4h.01M1249.7 788.6h.01M1252.9 788.6h.01M1256.0 788.6h.01M1259.2 788.5h.01M1262.4 788.5h.01M1265.6 788.5h.01M1268.8 788.7h.01M1252.6 791.7h.01M1255.4 791.9h.01M1258.3 791.7h.01M1261.1 791.8h.01M1264.0 791.8h.01M1266.8 791.7h.01M1269.7 791.7h.01M1249.2 795.1h.01M1252.3 794.9h.01M1255.4 794.9h.01M1258.5 794.9h.01M1261.6 795.0h.01M1264.7 795.0h.01M1267.8 795.0h.01M1270.9 795.0h.01M1249.2 798.3h.01M1252.1 798.1h.01M1255.1 798.1h.01M1258.1 798.2h.01M1261.0 798.1h.01M1264.0 798.2h.01M1266.9 798.3h.01M1269.9 798.1h.01M1250.9 801.4h.01M1253.8 801.3h.01M1256.7 801.3h.01M1259.7 801.4h.01M1262.6 801.4h.01M1265.5 801.5h.01M1268.5 801.4h.01M1271.4 801.3h.01M1251.8 804.7h.01M1254.7 804.7h.01M1257.6 804.7h.01M1260.5 804.5h.01M1263.5 804.7h.01M1266.4 804.6h.01M1269.3 804.5h.01M1272.2 804.5h.01M1249.2 807.9h.01M1252.1 807.7h.01M1254.9 807.7h.01M1257.8 807.7h.01M1260.7 807.9h.01M1263.6 807.8h.01M1266.4 807.9h.01M1269.3 807.7h.01M1272.2 807.8h.01" fill="none" stroke="#000" stroke-width="12.4" stroke-linecap="round"/>
<path d="M189.1 823.3L346.8 811.2L504.5 799.0L662.3 786.7L820.0 774.2L977.8 761.3L1135.5 747.7L1261.7 736.4L1261.7 743.2L1135.5 753.1L977.8 765.9L820.0 779.4L662.3 793.3L504.5 807.4L346.8 821.6L189.1 835.9Z" fill="#878787" fill-opacity="0.4"/>
<path d="M189.1 829.6L1261.7 739.8" stroke="#264cfc" stroke-width="5.69" fill="none"/>
<g fill="none"><path d="M114.7 808.5H122.05" stroke="#262626" stroke-width="2.85"/><path d="M114.7 572.8H122.05" stroke="#262626" stroke-width="2.85"/><path d="M114.7 337.1H122.05" stroke="#262626" stroke-width="2.85"/><path d="M114.7 101.4H122.05" stroke="#262626" stroke-width="2.85"/><path d="M189.1 873V880.3" stroke="#262626" stroke-width="2.85"/><path d="M504.5 873V880.3" stroke="#262626" stroke-width="2.85"/><path d="M820.0 873V880.3" stroke="#262626" stroke-width="2.85"/><path d="M1135.5 873V880.3" stroke="#262626" stroke-width="2.85"/></g>
<g class="ax"><text x="108.6" y="818.1" text-anchor="end">0</text><text x="108.6" y="582.4" text-anchor="end">1000</text><text x="108.6" y="346.7" text-anchor="end">2000</text><text x="108.6" y="111.0" text-anchor="end">3000</text><text x="189.1" y="903.9" text-anchor="middle">50</text><text x="504.5" y="903.9" text-anchor="middle">60</text><text x="820.0" y="903.9" text-anchor="middle">70</text><text x="1135.5" y="903.9" text-anchor="middle">80</text></g>
<text x="121" y="40" font-size="35.2" fill="#000" textLength="819.6" lengthAdjust="spacing">Number of mosquitoes vs average daily temperature</text>
<text x="486.2" y="939.2" font-size="29.33" fill="#000" textLength="478.4" lengthAdjust="spacing">Average daily temperature, degree F</text>
<text transform="translate(35.1 672.4) rotate(-90)" font-size="29.33" fill="#000" textLength="407.6" lengthAdjust="spacing">Number of mosquitoes per trap</text>
</svg>
</body></html>
